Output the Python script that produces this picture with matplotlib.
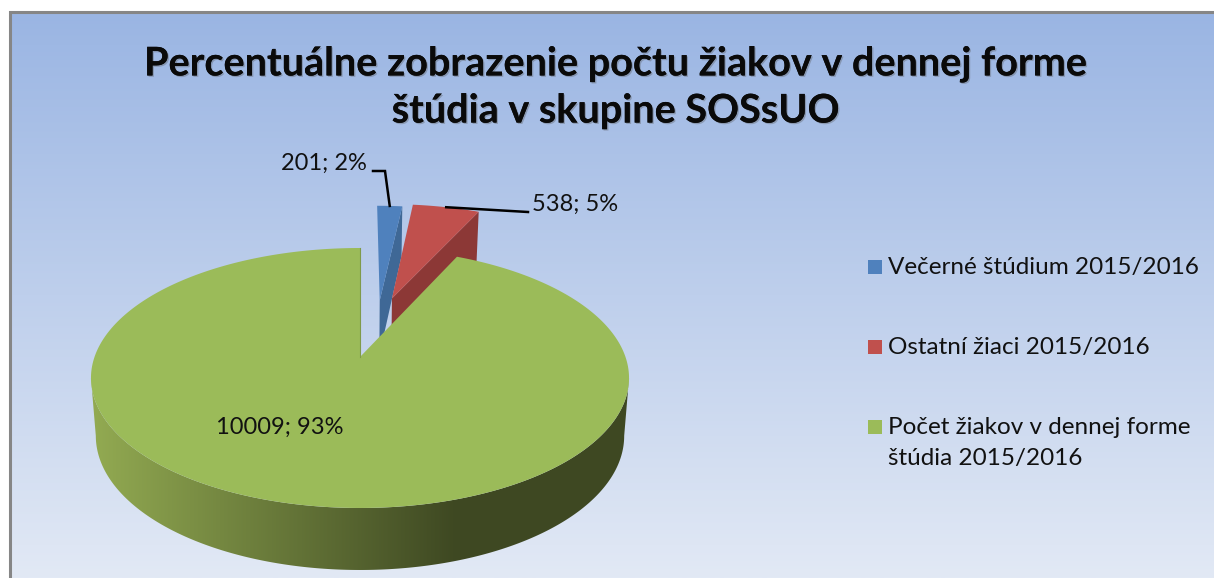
import numpy as np
import matplotlib
matplotlib.use('Agg')
import matplotlib.pyplot as plt
import matplotlib.patheffects as pe
from matplotlib.patches import Polygon, Rectangle

# chart data
categories = ['Večerné štúdium 2015/2016', 'Ostatní žiaci 2015/2016',
              'Počet žiakov v dennej forme\nštúdia 2015/2016']
values = [201, 538, 10009]
top_colors = ['#4f81bd', '#c0504d', '#9bbb59']
wall_colors = ['#3f6896', '#8c3836', '#3e4822']
# slices pulled away from the pie, in pie radii (sideways, backwards)
offsets = [(0.08, 0.48), (0.13, 0.50), (0.0, 0.0)]

title_text = 'Percentuálne zobrazenie počtu žiakov v dennej forme\nštúdia v skupine SOSsUO'

plt.rcParams['font.family'] = ['Lato', 'DejaVu Sans']

W, H = 1214, 578
fig = plt.figure(figsize=(W / 100, H / 100), dpi=100)
ax = fig.add_axes([0, 0, 1, 1])
ax.axis('off')

# perspective of the pie, worked out from the picture
CX, CY = 360, 357
BX, AY = 265.5, 126.6
K = 0.1615
SHRINK = 0.982


def project(u, v, z=0.0):
    w = 1 + K * v
    x = CX + BX * u * (1 - (1 - SHRINK) * z) / w
    # wall is 62 px at the front of the pie, about 50 px at the back
    y = CY - AY * v / w + (62 - 5 * (v + 1)) * z
    return x, y


def rim(theta, off):
    return np.sin(theta) + off[0], np.cos(theta) + off[1]


# background
bg = np.linspace(0, 1, 256).reshape(-1, 1)
c1 = np.array([0x9a, 0xb5, 0xe3]) / 255
c2 = np.array([0xe2, 0xe9, 0xf5]) / 255
bg_img = c1 + (c2 - c1) * bg[..., None]
ax.imshow(bg_img, extent=[10, W, H, 12], aspect='auto', zorder=0)
# only the top and left of the frame are inside the picture
ax.plot([9.5, 9.5, W], [H, 11.5, 11.5], color='#868686', lw=2.2, zorder=1,
        solid_joinstyle='miter', solid_capstyle='butt')

angles = np.concatenate([[0], np.cumsum(values) / np.sum(values) * 2 * np.pi])

z = 2
for i in range(len(values)):
    a0, a1 = angles[i], angles[i + 1]
    off = offsets[i]
    t = np.linspace(a0, a1, 300)
    u, v = rim(t, off)

    if i < 2:
        # cut face on the right of the slice
        xa, ya = project(off[0], off[1])
        xa2, ya2 = project(off[0], off[1], 1)
        x1, y1 = project(*rim(a1, off))
        x2, y2 = project(*rim(a1, off), 1)
        ax.add_patch(Polygon([(xa, ya), (x1, y1), (x2, y2), (xa2, ya2)], fc=wall_colors[i],
                             ec='none', zorder=z))
    else:
        # outer wall of the big slice with its sideways shading,
        # from the widest point of the ellipse on one side to the other
        edge = np.arccos(-K)
        tw = np.linspace(edge, 2 * np.pi - edge, 300)
        ut, vt = rim(tw, off)
        xt, yt = project(ut, vt)
        xb, yb = project(ut, vt, 1)
        wall = Polygon(np.column_stack([np.r_[xt, xb[::-1]], np.r_[yt, yb[::-1]]]),
                       fc='none', ec='none')
        ax.add_patch(wall)
        shade = np.linspace(0, 1, 540).reshape(1, -1)
        pos = np.clip(shade / 0.68, 0, 1)
        light = np.array([0x93, 0xab, 0x52]) / 255
        dark = np.array([0x3e, 0x48, 0x22]) / 255
        img = light + (dark - light) * pos[..., None]
        im = ax.imshow(img, extent=[90, 630, 575, 370], aspect='auto', zorder=z)
        im.set_clip_path(wall)
    z += 1

    xs, ys = project(u, v)
    xa, ya = project(off[0], off[1])
    ax.add_patch(Polygon(np.column_stack([np.r_[xa, xs], np.r_[ya, ys]]), fc=top_colors[i],
                         ec='none', zorder=z))
    z += 1

# thin edge of the big slice where it faces the gap
xe, ye = project(*rim(2 * np.pi, offsets[2]))
ax.plot([CX, xe], [CY, ye], color='#7f9a4a', lw=0.8, zorder=z)

ax.set_xlim(0, W)
ax.set_ylim(H, 0)

# title
ax.text(616, 87.5, title_text, ha='center', va='center', fontsize=28.5, fontweight='bold',
        linespacing=1.32, color='#0a0a0a', zorder=20,
        path_effects=[pe.withSimplePatchShadow(offset=(1, -1), shadow_rgbFace='#555555', alpha=0.35),
                      pe.Normal()])

# data labels
totals = np.sum(values)
labels = ['%d; %d%%' % (val, round(val / totals * 100)) for val in values]
ax.text(281, 163, labels[0], ha='left', va='center', fontsize=17, color='#111111', zorder=20)
ax.text(532, 204, labels[1], ha='left', va='center', fontsize=17, color='#111111', zorder=20)
ax.text(216, 427, labels[2], ha='left', va='center', fontsize=17, color='#111111', zorder=20)

# leader lines
mid0 = project(*rim((angles[0] + angles[1]) / 2, offsets[0]))
mid1 = project(*rim((angles[1] + angles[2]) / 2, offsets[1]))
ax.plot([373, 385, mid0[0]], [171, 171, mid0[1]], color='black', lw=1.8, zorder=19,
        solid_joinstyle='miter')
ax.plot([mid1[0], 528], [mid1[1], 212], color='black', lw=1.8, zorder=19)

# legend
legend_y = [267, 347, 427]
for name, col, ly in zip(categories, top_colors, legend_y):
    ax.add_patch(Rectangle((868, ly - 7), 14, 14, fc=col, ec='none', zorder=20))
    ax.text(888, ly + 0.5, name.split('\n')[0], ha='left', va='center', fontsize=17.45,
            color='#111111', zorder=20)
    if '\n' in name:
        ax.text(888, ly + 31.5, name.split('\n')[1], ha='left', va='center', fontsize=17.45,
                color='#111111', zorder=20)

fig.savefig('out.png', dpi=100, facecolor='white')
